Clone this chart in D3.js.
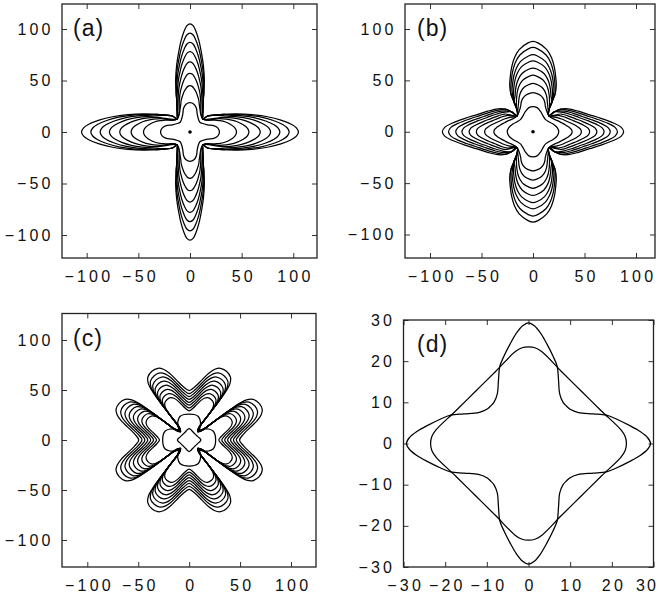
<!DOCTYPE html>
<html>
<head>
<meta charset="utf-8">
<script src="https://cdn.jsdelivr.net/npm/d3@7"></script>
<style>
  body { margin: 0; background: #fff; }
  svg { display: block; }
</style>
</head>
<body>
<svg id="chart" width="661" height="596"></svg>
<script>
// ---------------- data (plot units) ----------------
const ticksABC = [-100, -50, 0, 50, 100];
const ticksD = [-30, -20, -10, 0, 10, 20, 30];

// (a) arm-tip distance and half-width of each growth contour
const aTips = [45, 57, 68, 78, 87, 96, 105];
const aHalfWidth = [11.5, 13, 14.3, 15.4, 16.3, 17, 17.5];
// outermost contour, horizontal arm edge [along, across]: tip -> widest, then widest -> neck
const aCapH = [[105,0],[103,4],[98,7.5],[88,11.5],[75,14.8],[60,16.8],[45,17.5]];
const aBaseH = [[33,17],[24,16.3],[17,15.5]];
// outermost contour, vertical arm edge
const aCapV = [[105,0],[103,3.2],[97,6],[88,8.8],[80,10.5],[65,12.9],[50,13.9]];
const aBaseV = [[38,13.3],[30,12.8],[22,12.5],[16,12.2]];
const aNeck = [12.5, 12.5];
// first (star) contour, one quadrant
const aCore = [[28.5,0],[27,3.8],[23,6.2],[17,7],[11.5,8.5],[9.5,9.5],[8.5,11.5],[7,17],[6.2,23],[3.8,27],[0,28.5]];

// (b)
const bTips = [38, 47, 55, 62, 69, 75, 82, 88];
const bHalfWidth = [12, 14, 16, 17.5, 19, 20.3, 21.5, 22.6];
const bCapH = [[88,0],[85.5,4.5],[78,8.5],[66,13],[55,16.5],[44,20],[34,22.3]];
const bBaseH = [[27,22],[21,19.5]];
const bCapV = [[88,0],[86.5,4.8],[80,13.4],[72,18],[63,20.7],[54,22],[45,22.6]];
const bBaseV = [[37,21.5],[29,18.4],[23,16],[19,15]];
const bNeck = [15.5, 15.5];
const bCore = [[25,0],[23.5,4],[19.5,7.5],[15,10],[12,12],[10,15],[7.5,19.5],[4,23.5],[0,24.5]];

// (c) outer reach of each lobed contour
const cReach = [46, 50.5, 55, 59.5, 64, 68.5, 73, 78];
// outermost lobed contour, one octant (x axis -> diagonal groove)
const cLobe = [[50,0],[54,6],[61,13],[67.5,19.5],[71.5,25.5],[72.5,31],[69.5,37],[63.5,41],[57,40.5],[50,37],[42,31.6],[33,24.9],[24,18.1],[16,12.1]];
const cNeck = [8.5, 8.5];
const cCross = [[26,0],[25.5,5],[23.5,9],[19,11],[14,11],[10.5,10],[8.8,8.8]];
const cDiamond = [[11.5,0],[10.8,1.3],[9,2.9],[5.9,5.9]];

// (d) two contours, one octant each
const dDiamond = [[23.5,0],[23.2,1.7],[22.2,3.3],[17.5,7.9],[12.7,12.7]];
const dStar = [[29.3,0],[28.6,1.4],[26.8,2.9],[24.2,4.4],[21.2,5.9],[18.7,6.9],[15.5,7.2],[12,7.5],[10,8.3],[9.1,9.1]];

// ---------------- shape helpers ----------------
function octantToQuadrant(oct) {
  const back = oct.slice(0, -1).reverse().map(([a, b]) => [b, a]);
  return oct.concat(back);
}
function fourfold(q) {
  const q2 = q.slice().reverse().map(([a, b]) => [-a, b]);
  const q3 = q.map(([a, b]) => [-a, -b]);
  const q4 = q.slice().reverse().map(([a, b]) => [a, -b]);
  return q.concat(q2.slice(1), q3.slice(1), q4.slice(1, -1));
}
// one arm edge of a contour with the given tip; the cap keeps the outer contour's form,
// the flank near the neck is shared with it where the cap is wide enough
function armEdge(cap, base, neckAlong, tip, s) {
  const k = (tip - neckAlong) / (cap[0][0] - neckAlong);
  const c = cap.map(([u, w]) => [neckAlong + (u - neckAlong) * k, w * s]);
  const [wu, ww] = c[c.length - 1];
  return c.concat(base.filter(([u, w]) => u < wu - 2 && w <= ww + 1));
}
function armQuadrant(capH, baseH, capV, baseV, neck, tip, s) {
  const h = armEdge(capH, baseH, neck[0], tip, s);
  const v = armEdge(capV, baseV, neck[1], tip, s).map(([u, w]) => [w, u]).reverse();
  return h.concat([neck], v);
}
function lobeOctant(lobe, neck, reach) {
  const rOut = d3.max(lobe, ([a, b]) => Math.hypot(a, b));
  const f = reach / rOut;
  const rNeck = Math.hypot(neck[0], neck[1]);
  const pts = lobe.map(([a, b]) => [a * f, b * f])
    .filter(([a, b]) => Math.hypot(a, b) > rNeck + 3);
  return pts.concat([neck]);
}

// ---------------- layout ----------------
const svg = d3.select("#chart");
const FONT = "'Liberation Sans', Arial, Helvetica, sans-serif";

const panels = [
  { label: "(a)", ticks: ticksABC, xd: [-100, 100], xr: [86.7, 293.3], yd: [-100, 100], yr: [235, 29],
    frame: [62, 4, 317, 258], labelXY: [73, 35.5] },
  { label: "(b)", ticks: ticksABC, xd: [-100, 100], xr: [430, 636], yd: [-100, 100], yr: [234.5, 29],
    frame: [405, 4, 655, 258], labelXY: [417, 35.5] },
  { label: "(c)", ticks: ticksABC, xd: [-100, 100], xr: [87.3, 291], yd: [-100, 100], yr: [540, 340],
    frame: [62, 313.5, 316, 567], labelXY: [73, 345.5] },
  { label: "(d)", ticks: ticksD, xd: [-30, 30], xr: [403.5, 653.5], yd: [-30, 30], yr: [567, 320],
    frame: [403.5, 320, 653.5, 567], labelXY: [417, 352] }
];

const contourLine = (x, y) => d3.line()
  .x(d => x(d[0])).y(d => y(d[1]))
  .curve(d3.curveCatmullRomClosed.alpha(0.5));

function setupPanel(p) {
  const g = svg.append("g");
  const x = d3.scaleLinear().domain(p.xd).range(p.xr);
  const y = d3.scaleLinear().domain(p.yd).range(p.yr);
  const [fx0, fy0, fx1, fy1] = p.frame;

  const styleAxis = sel => {
    sel.select(".domain").remove();
    sel.selectAll(".tick line").attr("stroke", "#333").attr("stroke-width", 1);
    sel.selectAll(".tick text")
      .attr("fill", "#111")
      .style("letter-spacing", "3.2px");
    sel.attr("font-family", FONT).attr("font-size", 16);
  };

  const bottom = g.append("g").attr("transform", `translate(0,${fy1})`)
    .call(d3.axisBottom(x).tickValues(p.ticks).tickSizeInner(-5).tickSizeOuter(0).tickPadding(12.5))
    .call(styleAxis);
  bottom.selectAll(".tick text").attr("dx", 1.6);
  // keep the right-most label inside the page
  bottom.selectAll(".tick text").filter(d => x(d) > 645)
    .style("letter-spacing", "2px").attr("dx", -7);

  g.append("g").attr("transform", `translate(${fx0},0)`)
    .call(d3.axisLeft(y).tickValues(p.ticks).tickSizeInner(-5).tickSizeOuter(0).tickPadding(8.3))
    .call(styleAxis);
  g.append("g").attr("transform", `translate(0,${fy0})`)
    .call(d3.axisTop(x).tickValues(p.ticks).tickSizeInner(-5).tickSizeOuter(0).tickFormat(""))
    .call(styleAxis);
  g.append("g").attr("transform", `translate(${fx1},0)`)
    .call(d3.axisRight(y).tickValues(p.ticks).tickSizeInner(-5).tickSizeOuter(0).tickFormat(""))
    .call(styleAxis);

  g.append("rect")
    .attr("x", fx0).attr("y", fy0)
    .attr("width", fx1 - fx0).attr("height", fy1 - fy0)
    .attr("fill", "none").attr("stroke", "#222").attr("stroke-width", 1.3);

  g.append("text")
    .attr("x", p.labelXY[0]).attr("y", p.labelXY[1])
    .attr("font-family", FONT).attr("font-size", 23)
    .style("letter-spacing", "1px")
    .attr("fill", "#111")
    .text(p.label);

  const shapes = g.append("g")
    .attr("fill", "none").attr("stroke", "#000")
    .attr("stroke-width", 1.25).attr("stroke-linejoin", "round");
  return { g, x, y, shapes, line: contourLine(x, y) };
}

// (a)
{
  const P = setupPanel(panels[0]);
  const wOut = d3.max(aHalfWidth);
  const rings = [fourfold(aCore)].concat(aTips.map((t, i) =>
    fourfold(armQuadrant(aCapH, aBaseH, aCapV, aBaseV, aNeck, t, aHalfWidth[i] / wOut))));
  P.shapes.selectAll("path").data(rings).join("path").attr("d", P.line);
  P.g.append("circle").attr("cx", P.x(0)).attr("cy", P.y(0)).attr("r", 1.8).attr("fill", "#000");
}
// (b)
{
  const P = setupPanel(panels[1]);
  const wOut = d3.max(bHalfWidth);
  const rings = [fourfold(bCore)].concat(bTips.map((t, i) =>
    fourfold(armQuadrant(bCapH, bBaseH, bCapV, bBaseV, bNeck, t, bHalfWidth[i] / wOut))));
  P.shapes.selectAll("path").data(rings).join("path").attr("d", P.line);
  P.g.append("circle").attr("cx", P.x(0)).attr("cy", P.y(0)).attr("r", 1.8).attr("fill", "#000");
}
// (c)
{
  const P = setupPanel(panels[2]);
  const rings = [fourfold(octantToQuadrant(cDiamond)), fourfold(octantToQuadrant(cCross))]
    .concat(cReach.map(r => fourfold(octantToQuadrant(lobeOctant(cLobe, cNeck, r)))));
  P.shapes.selectAll("path").data(rings).join("path").attr("d", P.line);
}
// (d)
{
  const P = setupPanel(panels[3]);
  const rings = [fourfold(octantToQuadrant(dDiamond)), fourfold(octantToQuadrant(dStar))];
  P.shapes.selectAll("path").data(rings).join("path").attr("d", P.line);
}
</script>
</body>
</html>
